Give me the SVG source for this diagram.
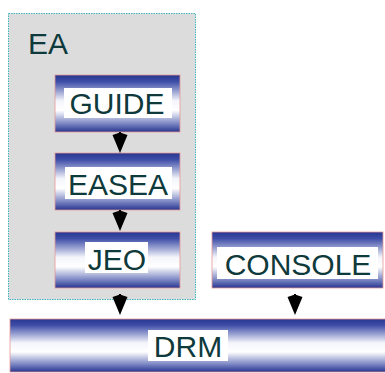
<svg xmlns="http://www.w3.org/2000/svg" width="385" height="373" viewBox="0 0 385 373">
  <defs>
    <!-- blue-white-blue tube shading used by every module box -->
    <linearGradient id="tube" x1="0" y1="0" x2="0" y2="1">
      <stop offset="0" stop-color="#27358f"/>
      <stop offset="0.12" stop-color="#3f4fa8"/>
      <stop offset="0.45" stop-color="#f4f5fb"/>
      <stop offset="0.62" stop-color="#ffffff"/>
      <stop offset="0.85" stop-color="#7d88c4"/>
      <stop offset="1" stop-color="#27358f"/>
    </linearGradient>
    <!-- dart-shaped arrowhead -->
    <path id="dart" d="M-7.5,0 L0,-2.5 L7.5,0 L0,18 Z"/>
  </defs>
  <style>
    .box { fill: url(#tube); stroke: #e79a96; stroke-width: 0.8; }
    .lbl-bg { fill: #ffffff; }
    .lbl { font-family: "Liberation Sans", Arial, sans-serif; font-size: 30px; fill: #0f3a3c; text-anchor: middle; }
    .group { fill: #dcdcdc; stroke: #3fb4bd; stroke-width: 1; stroke-dasharray: 1.5 1; }
    .arrow { fill: #000000; }
    .shaft { stroke: #000000; stroke-width: 2; }
  </style>

  <rect width="385" height="373" fill="#ffffff"/>

  <!-- EA container -->
  <g id="ea">
    <rect class="group" x="8.5" y="13.5" width="187" height="286"/>
    <text class="lbl" x="48" y="54">EA</text>
  </g>

  <g id="guide">
    <rect class="box" x="55" y="75" width="125" height="57"/>
    <rect class="lbl-bg" x="64" y="88" width="108" height="30"/>
    <text class="lbl" x="117" y="114">GUIDE</text>
  </g>

  <g id="easea">
    <rect class="box" x="55" y="153" width="125" height="57"/>
    <rect class="lbl-bg" x="65" y="167" width="107" height="32"/>
    <text class="lbl" x="118" y="195">EASEA</text>
  </g>

  <g id="jeo">
    <rect class="box" x="55" y="232" width="125" height="56"/>
    <rect class="lbl-bg" x="85" y="242" width="63" height="31"/>
    <text class="lbl" x="117" y="270">JEO</text>
  </g>

  <g id="console">
    <rect class="box" x="212" y="232" width="171" height="56"/>
    <rect class="lbl-bg" x="217" y="247" width="161" height="32"/>
    <text class="lbl" x="298" y="275">CONSOLE</text>
  </g>

  <g id="drm">
    <rect class="box" x="10" y="319" width="380" height="53"/>
    <rect class="lbl-bg" x="148" y="330" width="80" height="31"/>
    <text class="lbl" x="188" y="357">DRM</text>
  </g>

  <!-- connectors -->
  <g id="connectors">
    <line class="shaft" x1="120" y1="132" x2="120" y2="137"/>
    <use class="arrow" href="#dart" x="120" y="135"/>
    <line class="shaft" x1="120" y1="210" x2="120" y2="215"/>
    <use class="arrow" href="#dart" x="120" y="213"/>
    <line class="shaft" x1="120" y1="294" x2="120" y2="299"/>
    <use class="arrow" href="#dart" x="120" y="297"/>
    <line class="shaft" x1="295" y1="294" x2="295" y2="299"/>
    <use class="arrow" href="#dart" x="295" y="297"/>
  </g>
</svg>
